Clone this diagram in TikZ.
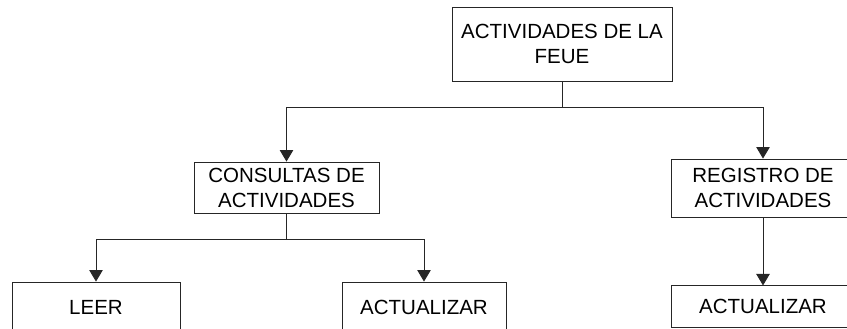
\documentclass[tikz,border=0pt]{standalone}
\usepackage{fontspec}
\setmainfont{Liberation Sans}
\usetikzlibrary{positioning}
\usetikzlibrary{arrows.meta}
\tikzset{
	block/.style={
		rectangle,
		draw=black!85,
		line width=.9pt,
		align=center,
		inner sep=0pt,
		font=\fontsize{20.5}{25}\selectfont
	},
	link/.style={
		draw=black!85,
		line width=.9pt,
		-{Triangle[width=13.5pt,length=11.5pt]}
	}
}

\begin{document}
\begin{tikzpicture}[x=1pt, y=-1pt]
			\useasboundingbox (0,0) rectangle (847,329);
			\clip (0,0) rectangle (847,329);
			\draw node[block, minimum width=220pt, minimum height=74pt] (Feue) at (562,44) {ACTIVIDADES DE LA\\ FEUE};
			\draw node[block, minimum width=185pt, minimum height=51pt] (Consultas) at (286.5,187.5) {CONSULTAS DE\\ ACTIVIDADES};
			\draw node[block, minimum width=184pt, minimum height=58pt] (Registro) at (763,188) {REGISTRO DE\\ ACTIVIDADES};
			\draw node[block, minimum width=168pt, minimum height=50pt] (Leer) at (96,307) {LEER};
			\draw node[block, minimum width=164pt, minimum height=50pt] (ActualizarC) at (424,307) {ACTUALIZAR};
			\draw node[block, minimum width=184pt, minimum height=42pt, below=68pt of Registro] (ActualizarR) {ACTUALIZAR};
			
			\draw [link] (Feue.south) -- ++(0,26) coordinate (FeueJoin) -| (Consultas.north);
			\draw [link] (FeueJoin) -| (Registro.north);
			\draw [link] (Consultas.south) -- ++(0,26) coordinate (ConsultasJoin) -| (Leer.north);
			\draw [link] (ConsultasJoin) -| (ActualizarC.north);
			\draw [link] (Registro) -- (ActualizarR);
		\end{tikzpicture}
\end{document}
